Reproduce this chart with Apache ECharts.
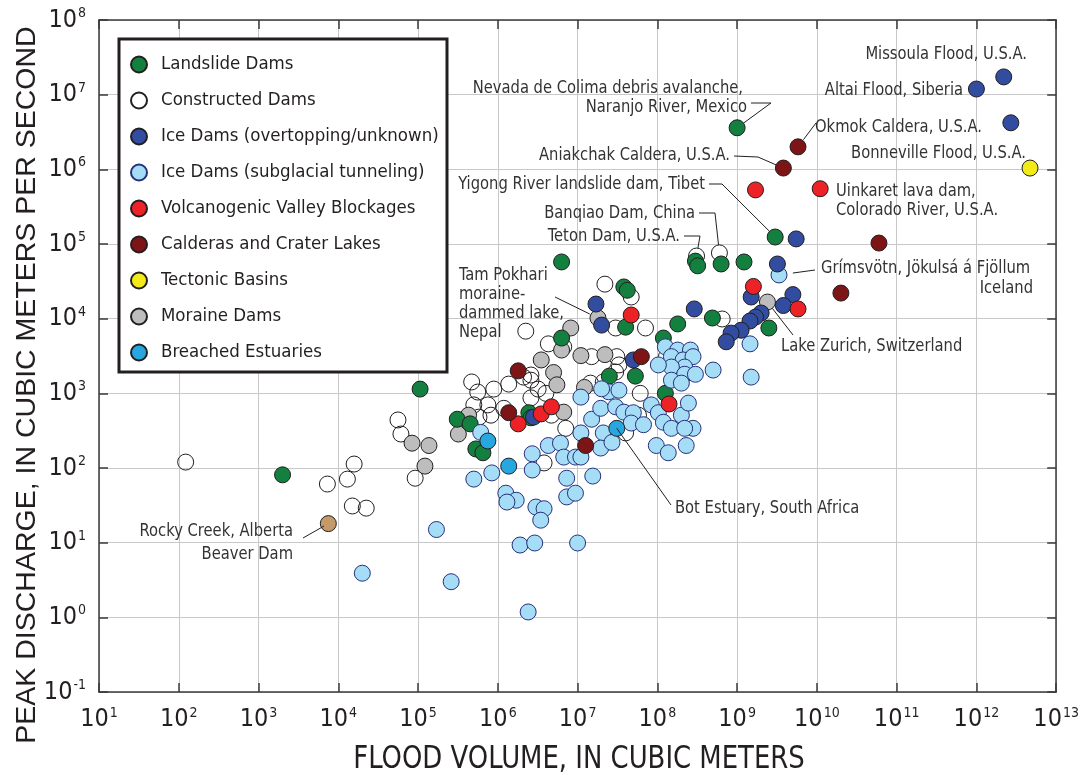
<!DOCTYPE html>
<html><head><meta charset="utf-8">
<script src="https://cdn.jsdelivr.net/npm/echarts@6/dist/echarts.min.js"></script>
<style>html,body{margin:0;padding:0;background:#fff}#c{width:1082px;height:775px}</style>
</head><body><div id="c"></div>
<script>
const FN = "'Liberation Sans Narrow','Arial Narrow','DejaVu Sans Condensed',sans-serif";
const FR = "'Liberation Sans',Arial,sans-serif";
const INK = '#231f20';

// [flood volume (m3), peak discharge (m3/s)]
const landslideDams = [
  [1.0e9,3.6e6],[3.0e9,1.24e5],[3.0e8,5.9e4],[3.2e8,5.1e4],[6.3e8,5.4e4],[1.22e9,5.75e4],
  [2.5e9,7.5e3],[4.9e8,1.02e4],[1.8e8,8.5e3],[1.19e8,5.5e3],[4.0e7,7.7e3],[3.8e7,2.66e4],
  [4.2e7,2.4e4],[6.3e6,5.75e4],[6.3e6,5.5e3],[5.3e7,1.7e3],[2.5e7,1.7e3],[1.26e8,1.0e3],
  [1.06e5,1.14e3],[3.1e5,450],[4.5e5,390],[5.3e5,180],[6.5e5,160],[2.45e6,550],
  [2.6e6,470],[2.0e3,81]
];
const constructedDams = [
  [122,120],[7.3e3,61],[1.3e4,71],[1.58e4,113],[1.5e4,31],[2.24e4,29],[5.6e4,440],[6.1e4,285],[9.2e4,73],
  [4.7e5,1420],[5.6e5,1040],[8.9e5,1140],[1.37e6,1330],[2.1e6,1650],[2.6e6,1500],[3.2e6,1140],[4.0e6,1000],
  [5.0e5,700],[7.5e5,700],[8.2e5,510],[5.8e5,480],[1.19e6,630],[2.6e6,870],[4.7e6,510],[7.1e6,340],[3.8e6,117],
  [2.24e6,6800],[4.3e6,4600],[6.7e6,4200],[2.6e6,1760],[1.5e7,3100],[3.1e7,3100],[3.3e7,2400],[3.0e7,1930],
  [2.1e7,1420],[1.45e7,1370],[2.2e7,2.9e4],[4.7e7,1.95e4],[3.0e7,7500],[7.1e7,7500],[3.1e8,6.9e4],[6.0e8,7.6e4],
  [6.5e8,9900],[1.3e8,3100],[6.1e7,1000],[5.8e7,510],[4.0e7,295]
];
const iceDamsOvertopping = [
  [2.2e12,1.73e7],[1.0e12,1.19e7],[2.7e12,4.2e6],[5.5e9,1.17e5],[3.2e9,5.4e4],[1.5e9,1.95e4],[5.0e9,2.1e4],
  [3.8e9,1.5e4],[2.0e9,1.19e4],[1.7e9,1.05e4],[1.45e9,9300],[1.12e9,7000],[8.4e8,6400],[7.3e8,4900],
  [2.9e8,1.35e4],[1.7e7,1.57e4],[2.0e7,8200],[5.0e7,2800],[2.8e6,480]
];
const iceDamsSubglacial = [
  [3.35e9,3.85e4],[1.45e9,4600],[1.5e9,1650],[5.0e8,2050],
  [1.26e8,4200],[1.8e8,3800],[2.6e8,3800],[1.5e8,3100],[2.1e8,2800],[2.8e8,3100],[2.2e8,2250],[1.5e8,2250],
  [2.2e8,1800],[3.0e8,1800],[1.5e8,1500],[2.0e8,1370],[1.03e8,2400],
  [1.1e7,890],[1.5e7,450],[1.1e7,295],[1.95e7,630],[2.1e7,295],[1.95e7,185],[4.3e6,200],[6.1e6,215],[6.7e6,140],
  [9.4e6,140],[2.7e6,155],[2.7e6,94],[8.4e5,86],[5.0e5,71],[7.3e6,73],[1.55e7,78],[1.26e6,46],[1.7e6,37],
  [1.3e6,35],[7.3e6,41],[9.4e6,46],[3.0e6,30],[3.8e6,28.5],[3.45e6,20],[1.7e5,15],[1.9e6,9.3],[2.9e6,9.9],
  [1.0e7,9.9],[2.6e5,3.0],[2.4e6,1.18],[2.0e4,3.9],[6.1e5,300],[2.45e7,1050],[3.3e7,1100],[3.0e7,660],
  [3.8e7,560],[5.0e7,550],[4.7e7,400],[2.7e7,220],[6.7e7,380],[8.4e7,700],[1.03e8,550],[1.19e8,410],
  [1.5e8,340],[9.7e7,200],[1.37e8,160],[2.3e8,200],[2.0e8,510],[2.45e8,740],[2.8e8,340],[2.2e8,340],
  [2.0e7,1150],[1.1e7,140]
];
const volcanogenic = [
  [1.7e9,5.3e5],[1.1e10,5.5e5],[1.6e9,2.7e4],[5.8e9,1.35e4],[4.7e7,1.12e4],[1.4e8,720],
  [1.8e6,390],[3.5e6,530],[4.7e6,660]
];
const calderas = [
  [5.8e9,2.0e6],[3.8e9,1.04e6],[6.0e10,1.03e5],[2.0e10,2.2e4],[6.3e7,3100],[1.8e6,2000],
  [1.37e6,550],[1.26e7,200]
];
const tectonicBasins = [[4.7e12,1.04e6]];
const moraineDams = [
  [2.4e9,1.67e4],[1.8e7,1.02e4],[8.2e6,7500],[6.3e6,3800],[3.5e6,2800],[5.0e6,1900],[1.1e7,3200],
  [2.2e7,3300],[1.22e7,1200],[5.5e6,1300],[6.7e6,560],[4.3e5,510],[3.2e5,285],[8.4e4,215],[1.37e5,200],
  [1.22e5,106]
];
const breachedEstuaries = [[3.1e7,340],[7.5e5,230],[1.37e6,106]];
const beaverDam = [[7.5e3,18]];

const legendNames = ['Landslide Dams','Constructed Dams','Ice Dams (overtopping/unknown)',
  'Ice Dams (subglacial tunneling)','Volcanogenic Valley Blockages','Calderas and Crater Lakes',
  'Tectonic Basins','Moraine Dams','Breached Estuaries'];

const xTitle = 'FLOOD VOLUME, IN CUBIC METERS';
const yTitle = 'PEAK DISCHARGE, IN CUBIC METERS PER SECOND';

// annotations: text lines, layout, and the data point each leader points to
const annotations = [
  {lines:['Missoula Flood, U.S.A.'], x:1027, ys:[54], align:'right'},
  {lines:['Altai Flood, Siberia'], x:963, ys:[90], align:'right'},
  {lines:['Okmok Caldera, U.S.A.'], x:815, ys:[127], align:'left', via:[[816,123]], at:calderas[0], gap:9},
  {lines:['Bonneville Flood, U.S.A.'], x:1026, ys:[153], align:'right'},
  {lines:['Uinkaret lava dam,','Colorado River, U.S.A.'], x:836, ys:[191,210], align:'left'},
  {lines:['Nevada de Colima debris avalanche,'], x:743, ys:[88], align:'right'},
  {lines:['Naranjo River, Mexico'], x:747, ys:[107], align:'right', via:[[751,103],[771,103]], at:landslideDams[0], gap:8},
  {lines:['Aniakchak Caldera, U.S.A.'], x:730, ys:[155], align:'right', via:[[734,156],[758,157]], at:calderas[1], gap:8},
  {lines:['Yigong River landslide dam, Tibet'], x:705, ys:[184], align:'right', via:[[709,184],[722,184]], at:landslideDams[1], gap:8},
  {lines:['Banqiao Dam, China'], x:695, ys:[213], align:'right', via:[[699,213],[715,213]], at:constructedDams[41], gap:8},
  {lines:['Teton Dam, U.S.A.'], x:680, ys:[236], align:'right', via:[[684,236],[700,236]], at:constructedDams[40], gap:8},
  {lines:['Grímsvötn, Jökulsá á Fjöllum'], x:821, ys:[268], align:'left', via:[[815,270]], at:iceDamsSubglacial[0], gap:14},
  {lines:['Iceland'], x:1033, ys:[288], align:'right'},
  {lines:['Lake Zurich, Switzerland'], x:781, ys:[346], align:'left', via:[[793,335]], at:moraineDams[0], gap:8},
  {lines:['Tam Pokhari','moraine-','dammed lake,','Nepal'], x:459, ys:[275,294,313,332], align:'left', via:[[555,297]], at:moraineDams[1], gap:9},
  {lines:['Rocky Creek, Alberta','Beaver Dam'], x:293, ys:[531,554], align:'right', via:[[303,538]], at:beaverDam[0], gap:5},
  {lines:['Bot Estuary, South Africa'], x:675, ys:[508], align:'left', via:[[671,505]], at:breachedEstuaries[0], gap:0}
];

const chart = echarts.init(document.getElementById('c'), null, {renderer:'canvas'});

function sc(name, data, color, border) {
  return {
    name, type:'scatter', data, symbol:'circle', symbolSize:16,
    xAxisIndex:0, yAxisIndex:0,
    itemStyle:{color, borderColor:border, borderWidth:1, opacity:1},
    emphasis:{disabled:true}, z:3
  };
}

const tickLabel = {
  formatter: v => '{b|10}{s|' + Math.round(Math.log10(v)) + '}',
  rich: {
    b:{fontSize:25, fontFamily:FN, color:INK, lineHeight:27},
    s:{fontSize:14, fontFamily:FN, color:INK, verticalAlign:'top', lineHeight:14, padding:[0,0,0,1]}
  }
};
const axisLineStyle = {show:true, lineStyle:{color:'#3a3a3a', width:1.5}};
const tick = {show:true, inside:true, length:9, lineStyle:{color:'#3a3a3a', width:1.5}};

chart.setOption({
  animation:false,
  backgroundColor:'#fff',
  grid:{left:99, top:20, width:960, height:672, containLabel:false},
  xAxis:[
    {type:'log', logBase:10, min:10, max:1e13, interval:1, position:'bottom',
     axisLine:axisLineStyle, axisTick:tick,
     axisLabel:Object.assign({margin:14}, tickLabel),
     splitLine:{show:true, lineStyle:{color:'#c8c8c8', width:1}}, minorTick:{show:false}},
    {type:'log', logBase:10, min:10, max:1e13, interval:1, position:'top',
     axisLine:axisLineStyle, axisTick:tick, axisLabel:{show:false}, splitLine:{show:false}}
  ],
  yAxis:[
    {type:'log', logBase:10, min:0.1, max:1e8, interval:1, position:'left',
     axisLine:axisLineStyle, axisTick:tick,
     axisLabel:Object.assign({margin:13}, tickLabel),
     splitLine:{show:true, lineStyle:{color:'#c8c8c8', width:1}}},
    {type:'log', logBase:10, min:0.1, max:1e8, interval:1, position:'right',
     axisLine:axisLineStyle, axisTick:tick, axisLabel:{show:false}, splitLine:{show:false}}
  ],
  legend:{
    data:legendNames, orient:'vertical', left:130, top:55, padding:0,
    itemWidth:16, itemHeight:16, itemGap:17, icon:'circle', z:20,
    selectedMode:false,
    textStyle:{fontSize:18.5, fontFamily:FN, color:INK, padding:[0,0,0,9]}
  },
  series:[
    sc('Constructed Dams', constructedDams, 'rgba(255,255,255,0)', INK),
    sc('Moraine Dams', moraineDams, '#bdbdbd', INK),
    sc('Landslide Dams', landslideDams, '#13803f', INK),
    sc('Ice Dams (subglacial tunneling)', iceDamsSubglacial, '#a5dcf6', '#27307a'),
    sc('Ice Dams (overtopping/unknown)', iceDamsOvertopping, '#324c9f', INK),
    sc('Volcanogenic Valley Blockages', volcanogenic, '#ec2227', INK),
    sc('Calderas and Crater Lakes', calderas, '#7d1416', INK),
    sc('Breached Estuaries', breachedEstuaries, '#27a7df', INK),
    sc('Tectonic Basins', tectonicBasins, '#f3ea1a', INK),
    sc('Beaver Dam', beaverDam, '#c49a6a', INK)
  ]
});

// graphics: legend frame, axis titles, annotations with leader lines
const g = [];
g.push({type:'rect', z:10, shape:{x:119, y:39, width:328, height:333},
  style:{fill:'#fff', stroke:INK, lineWidth:3}});
g.push({type:'text', z:10, x:579, y:760, scaleX:0.9, style:{text:xTitle, fontSize:32, fontFamily:FN, fill:INK, align:'center', verticalAlign:'middle'}});
g.push({type:'text', z:10, x:27, y:385, rotation:Math.PI/2, style:{text:yTitle, fontSize:28.5, fontFamily:FR, fill:INK, align:'center', verticalAlign:'middle'}});

annotations.forEach(a => {
  a.lines.forEach((t, i) => {
    g.push({type:'text', z:12, x:a.x, y:a.ys[i], scaleX:0.91, style:{text:t, fontSize:18, fontFamily:FN, fill:'#333', align:a.align, verticalAlign:'middle'}});
  });
  if (a.at) {
    const p = chart.convertToPixel({xAxisIndex:0, yAxisIndex:0}, a.at);
    const pts = a.via.slice();
    const last = pts[pts.length-1];
    const dx = p[0]-last[0], dy = p[1]-last[1], d = Math.hypot(dx, dy) || 1;
    pts.push([p[0]-dx/d*a.gap, p[1]-dy/d*a.gap]);
    g.push({type:'polyline', z:12, shape:{points:pts}, style:{stroke:INK, lineWidth:1, fill:null}});
  }
});
chart.setOption({graphic:g});
</script></body></html>
